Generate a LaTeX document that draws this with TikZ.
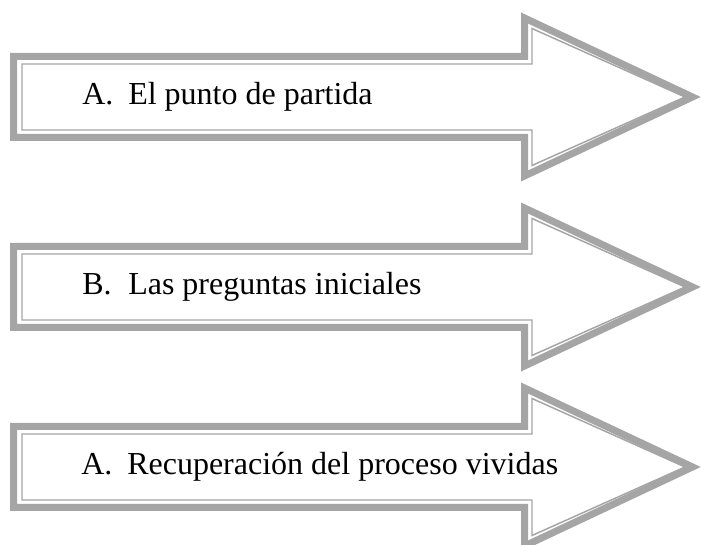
\documentclass[tikz,border=0pt]{standalone}
\usepackage{fontspec}
\setmainfont{Liberation Serif}
\definecolor{rimgray}{HTML}{A5A5A5}
\newcommand{\itemlabel}[2]{\makebox[34.5pt][l]{#1}#2}
\begin{document}
\begin{tikzpicture}[x=0.75pt,y=-0.75pt,
    band/.style={draw=rimgray, line width=5.25pt, fill=white},
    rim/.style={draw=rimgray, line width=1.1pt},
    caption/.style={anchor=base west, inner sep=0pt, font=\fontsize{24}{28}\selectfont}]
                    \useasboundingbox (0,0) rectangle (701,545);
                    % first arrow
                    \draw[band] (13.5,56.5) -- (524.5,56.5) -- (524.5,18) -- (692.5,97) -- (524.5,176) -- (524.5,137.5) -- (13.5,137.5) -- cycle;
                    \draw[rim] (22,64) -- (532,64) -- (532,28.5) -- (685,97) -- (532,165.5) -- (532,130) -- (22,130) -- cycle;
                    \node[caption] (partida) at (82,105) {\itemlabel{A.}{El punto de partida}};
                    % second arrow
                    \draw[band] (13.5,246.5) -- (524.5,246.5) -- (524.5,208) -- (692.5,287) -- (524.5,366) -- (524.5,327.5) -- (13.5,327.5) -- cycle;
                    \draw[rim] (22,254) -- (532,254) -- (532,218.5) -- (685,287) -- (532,355.5) -- (532,320) -- (22,320) -- cycle;
                    \node[caption] (preguntas) at (82,295) {\itemlabel{B.}{Las preguntas iniciales}};
                    % third arrow
                    \draw[band] (13.5,426.5) -- (524.5,426.5) -- (524.5,388) -- (692.5,467) -- (524.5,546) -- (524.5,507.5) -- (13.5,507.5) -- cycle;
                    \draw[rim] (22,434) -- (532,434) -- (532,398.5) -- (685,467) -- (532,535.5) -- (532,500) -- (22,500) -- cycle;
                    \node[caption] (recuperacion) at (81,475) {\itemlabel{A.}{Recuperación del proceso vividas}};
\end{tikzpicture}
\end{document}
